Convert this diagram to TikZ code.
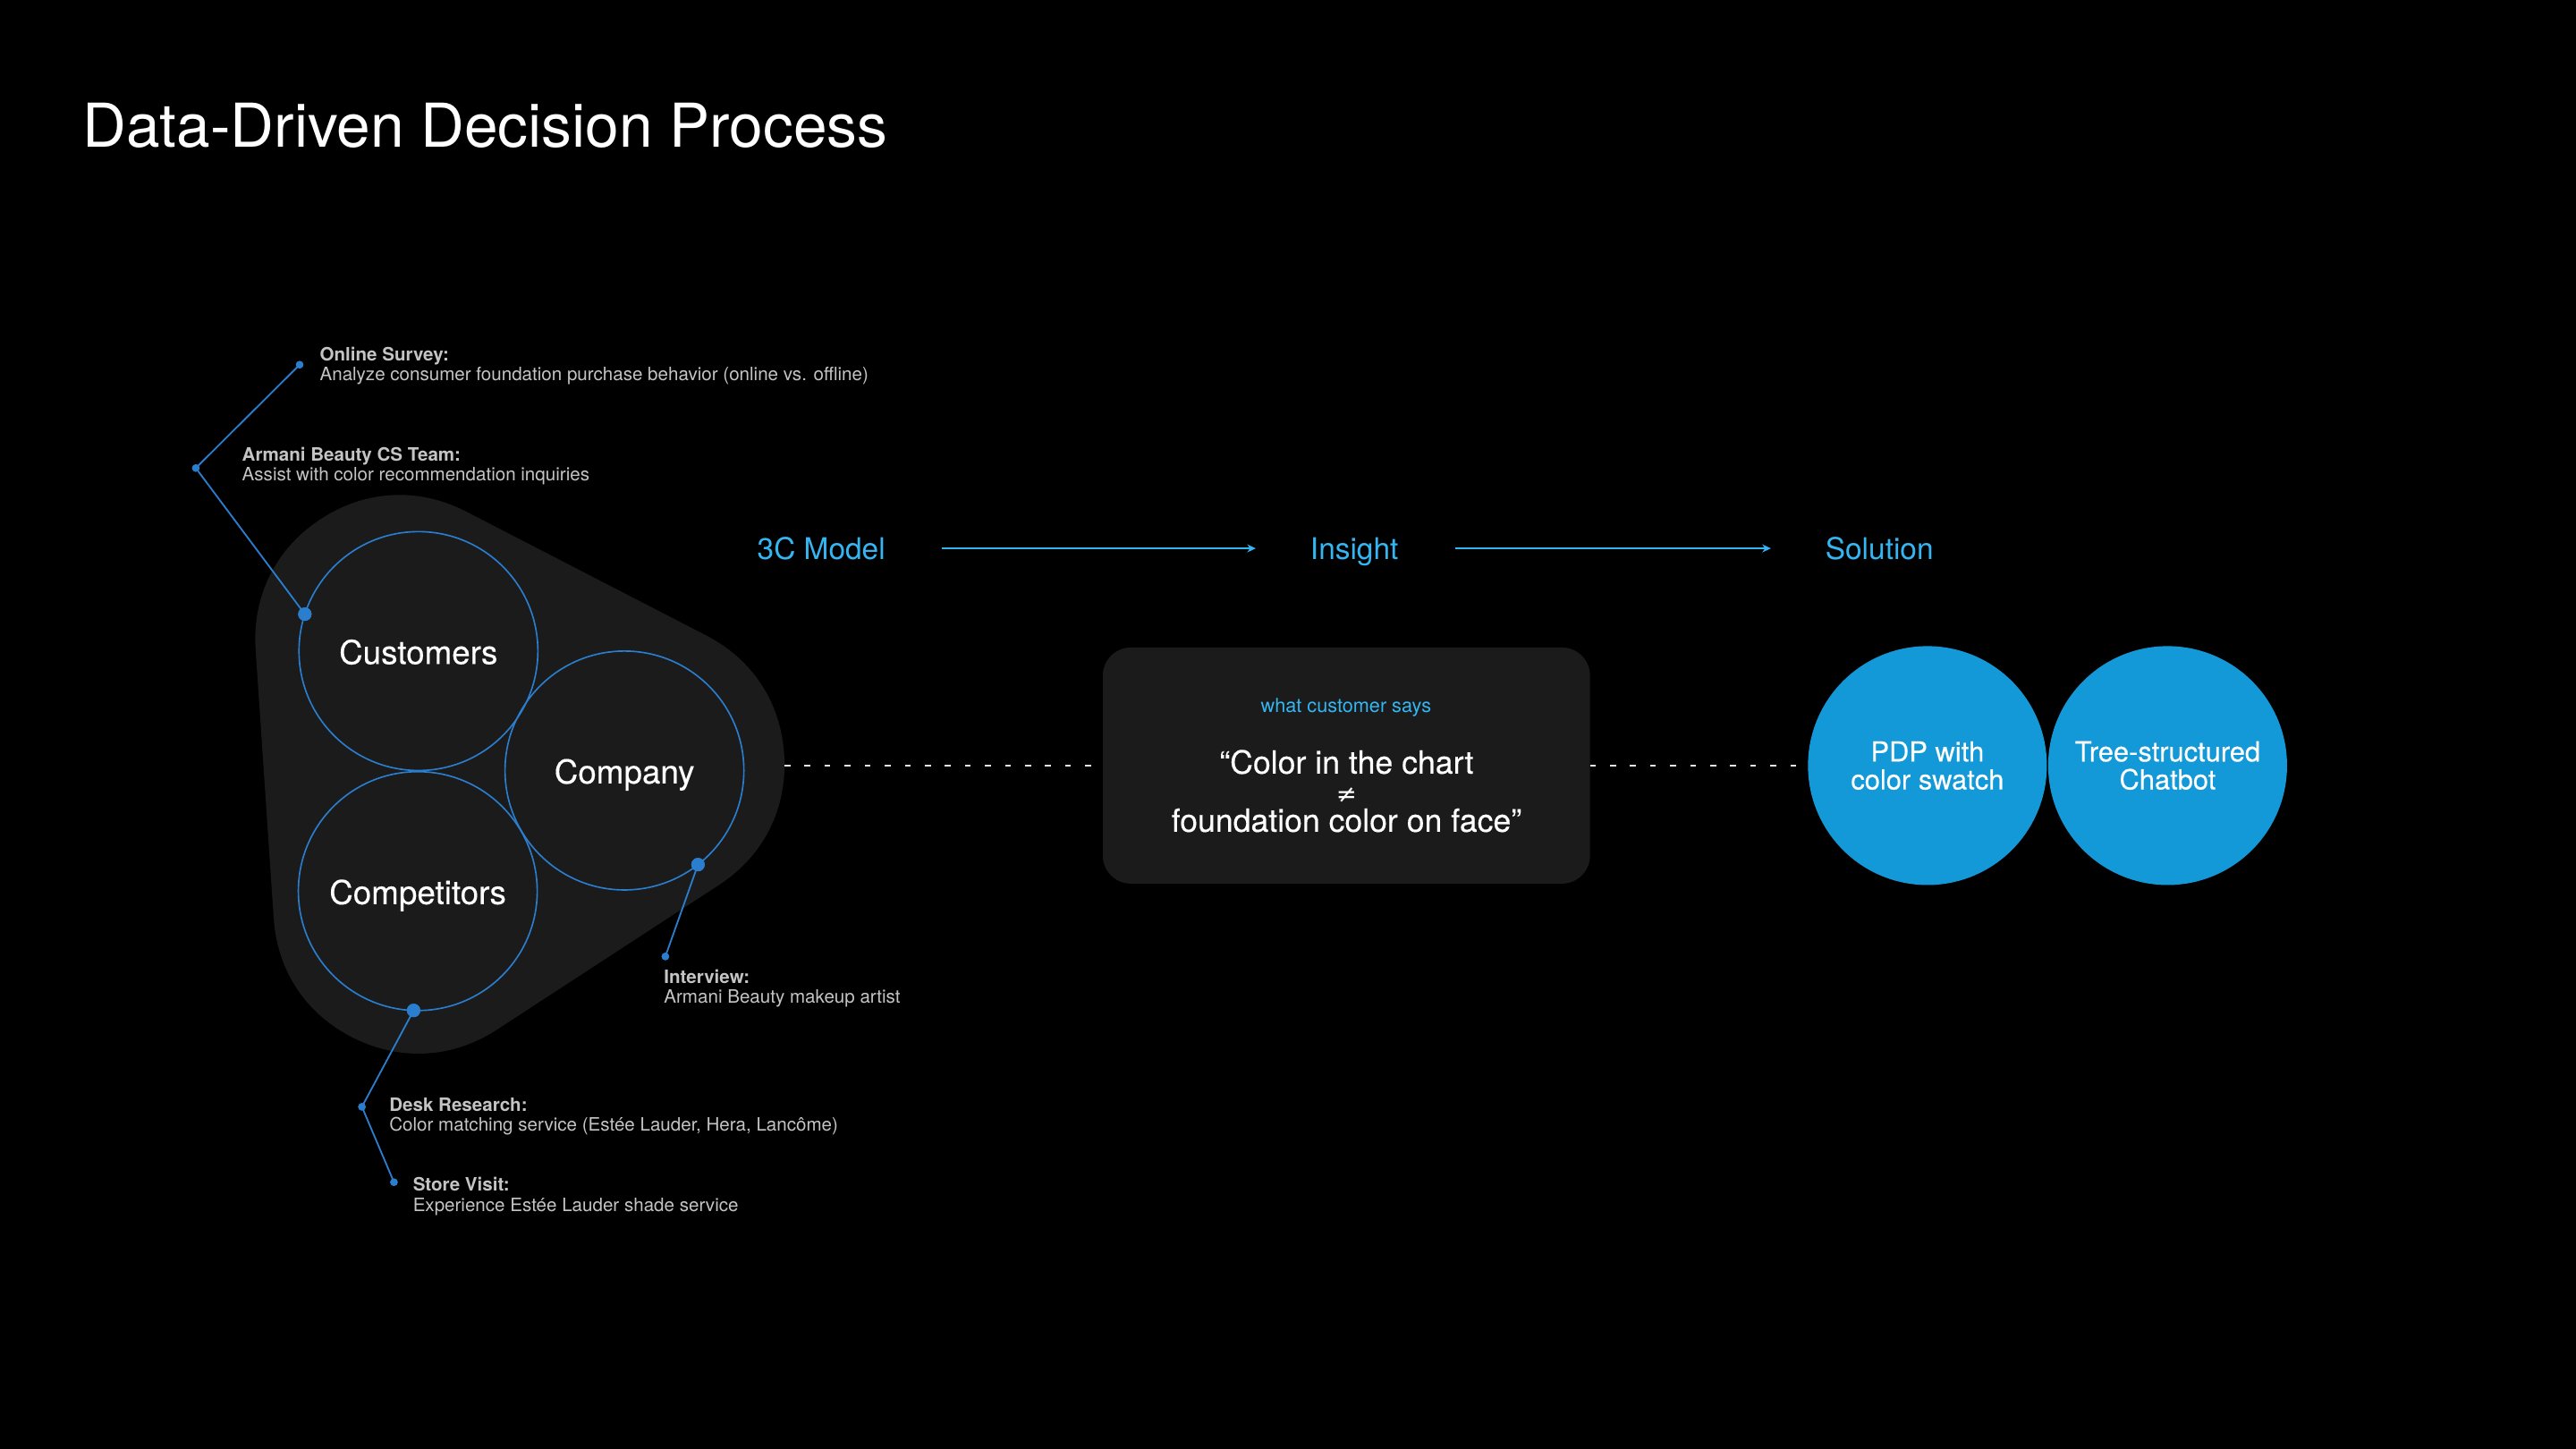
\documentclass[tikz,border=0pt]{standalone}
\usepackage{fontspec}
\setmainfont{TeX Gyre Heros}
\newfontfamily\medfont[FakeBold=0.3]{TeX Gyre Heros}
\newfontfamily\djv{DejaVu Sans}
\usetikzlibrary{arrows.meta}
\definecolor{blobc}{HTML}{1B1B1B}
\definecolor{cblue}{HTML}{2B7DCD}
\definecolor{lblue}{HTML}{34B6F2}
\definecolor{sblue}{HTML}{1399D8}
\definecolor{lgrey}{HTML}{C4C4C4}
\definecolor{dashw}{HTML}{E6E6E6}
\begin{document}
\begin{tikzpicture}[x=0.5pt,y=-0.5pt,
  ccirc/.style={circle, draw=cblue, line width=0.45pt, inner sep=0pt, outer sep=0pt,
    minimum size=72.7pt, text=white, font=\medfont\fontsize{10}{12}\selectfont,
    text height=7.9pt, text depth=0pt},
  solc/.style={circle, fill=sblue, inner sep=0pt, outer sep=0pt, minimum size=72.7pt,
    text=white, align=center, font=\medfont\fontsize{8.4}{8.5}\selectfont},
  lab/.style={anchor=base west, inner sep=0pt, align=left, text=lgrey,
    font=\fontsize{5.6}{6.1}\selectfont},
  bigdot/.style={circle, fill=cblue, inner sep=0pt, outer sep=0pt, minimum size=4.1pt},
  smalldot/.style={circle, fill=cblue, inner sep=0pt, outer sep=0pt, minimum size=2.3pt},
  conn/.style={cblue, line width=0.5pt},
  hdr/.style={anchor=base, inner sep=0pt, text=lblue, font=\fontsize{9.1}{11}\selectfont,
    text height=6.5pt, text depth=0pt},
  arr/.style={lblue, line width=0.5pt, -{Stealth[length=2.6pt,width=2.4pt]},
    shorten <=17pt, shorten >=16.4pt},
  dashl/.style={dashw, line width=0.73pt, dash pattern=on 1.8pt off 4.3pt}
]
% background
\fill[black] (0,0) rectangle (1568,882);
\useasboundingbox (0,0) rectangle (1568,882);

% title
\node[anchor=base west, inner sep=0pt, text=white, font=\fontsize{18.4}{22}\selectfont]
  (title) at (50,89.8) {Data-Driven Decision Process};

% blob (rounded triangle)
\filldraw[blobc, line width=88pt, line join=round]
  (243.4,389.6) -- (389.5,465) -- (254.4,553) -- cycle;
\coordinate (blobR) at (477.5,466);

% 3C circles
\node[ccirc] (cust) at (254.7,396.3) {Customers};
\node[ccirc] (comp) at (380.1,469) {Company};
\node[ccirc] (compet) at (254.3,542.4) {Competitors};

% dots
\node[bigdot] (dcust) at (cust.162) {};
\node[bigdot] (dcomp) at (comp.-52) {};
\node[bigdot] (dcompet) at (compet.-92) {};
\node[smalldot] (dos) at (182.4,222) {};
\node[smalldot] (dcs) at (119.2,284.9) {};
\node[smalldot] (div) at (405,582.2) {};
\node[smalldot] (ddr) at (220.3,673.7) {};
\node[smalldot] (dsv) at (239.8,719.6) {};

% connectors
\draw[conn] (dos.center) -- (dcs.center) -- (dcust.center);
\draw[conn] (dcomp.center) -- (div.center);
\draw[conn] (dcompet.center) -- (ddr.center) -- (dsv.center);
\node[bigdot] at (dcust) {};
\node[bigdot] at (dcomp) {};
\node[bigdot] at (dcompet) {};
\node[smalldot] at (dos) {};
\node[smalldot] at (dcs) {};
\node[smalldot] at (div) {};
\node[smalldot] at (ddr) {};
\node[smalldot] at (dsv) {};

% labels (anchor = baseline of the last line)
\node[lab] (los) at (194.3,231.8) {\textbf{Online Survey:}\\Analyze consumer foundation purchase behavior (online vs. offline)};
\node[lab] (lcs) at (147,292.7) {\textbf{Armani Beauty CS Team:}\\Assist with color recommendation inquiries};
\node[lab] (liv) at (403.8,610.7) {\textbf{Interview:}\\Armani Beauty makeup artist};
\node[lab] (ldr) at (236.6,688.4) {\textbf{Desk Research:}\\Color matching service (Est\'ee Lauder, Hera, Lanc\^ome)};
\node[lab] (lsv) at (251,737.2) {\textbf{Store Visit:}\\Experience Est\'ee Lauder shade service};

% headers and arrows
\node[hdr] (h3c) at (499.9,340.3) {3C Model};
\node[hdr] (hins) at (824.4,340.3) {Insight};
\node[hdr] (hsol) at (1144,340.3) {Solution};
\draw[arr] (h3c) -- (hins);
\draw[arr] (hins) -- (hsol);

% insight box
\node[rectangle, rounded corners=8.5pt, fill=blobc, minimum width=148.25pt,
  minimum height=71.85pt, inner sep=0pt, outer sep=0pt] (box) at (819.55,466) {};
\node[anchor=base, inner sep=0pt, text=lblue, font=\fontsize{5.9}{7}\selectfont]
  (says) at (819.3,433.7) {what customer says};
\node[anchor=base, inner sep=0pt, text=white, align=center,
  font=\medfont\fontsize{9.7}{8.85}\selectfont]
  (quote) at (819.6,506.3) {“Color in the chart\\\smash{\djv\fontsize{7.5}{8.85}\selectfont ≠}\\foundation color on face”};

% solution circles
\node[solc] (pdp) at (1173.2,466) {PDP with\\color swatch};
\node[solc] (chat) at (1319.4,466) {Tree-structured\\Chatbot};

% dashed connectors
\draw[dashl] (blobR) -- (box.west);
\draw[dashl] (box.east) -- (pdp.west);
\end{tikzpicture}
\end{document}
